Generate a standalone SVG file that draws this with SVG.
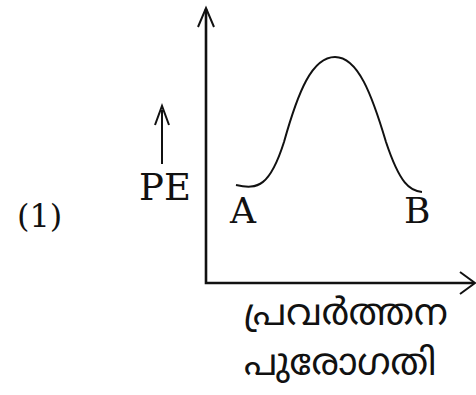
<svg xmlns="http://www.w3.org/2000/svg" width="476" height="395" viewBox="0 0 476 395">
<style>
.ax{fill:none;stroke:#111;stroke-width:2.6;stroke-linecap:butt}
.hd{fill:none;stroke:#111;stroke-width:2;stroke-linejoin:miter}
.cv{fill:none;stroke:#111;stroke-width:2}
.lt{font-family:"DejaVu Serif","Liberation Serif",serif;fill:#111}
.ml{font-family:"Noto Sans Malayalam","Noto Sans","DejaVu Sans",sans-serif;fill:#111}
</style>
<rect width="476" height="395" fill="#fff"/>
<g id="axes">
<path class="ax" d="M206,9 V283 H474"/>
<path class="hd" d="M198,27 L206,8 L214,27"/>
<path class="hd" d="M460,272 L475,283 L460,294"/>
</g>
<g id="curve">
<path class="cv" d="M236,185 C258,190 270,186 284,142 C298,92 312,57 335,57 C358,57 372,95 386,142 C400,184 410,191 422,192"/>
</g>
<g id="pe-label">
<path class="ax" d="M162,164 V110" style="stroke-width:2"/>
<path class="hd" d="M155,125 L162,106 L169,125"/>
<text class="lt" x="139" y="200" font-size="37">PE</text>
</g>
<g id="labels">
<text class="lt" x="17" y="227" font-size="32">(1)</text>
<text class="lt" x="230" y="223" font-size="36">A</text>
<text class="lt" x="404" y="223" font-size="36">B</text>
<text class="ml" x="244" y="325" font-size="37">പ്രവർത്തന</text>
<text class="ml" x="244" y="375" font-size="37">പുരോഗതി</text>
</g>
</svg>
